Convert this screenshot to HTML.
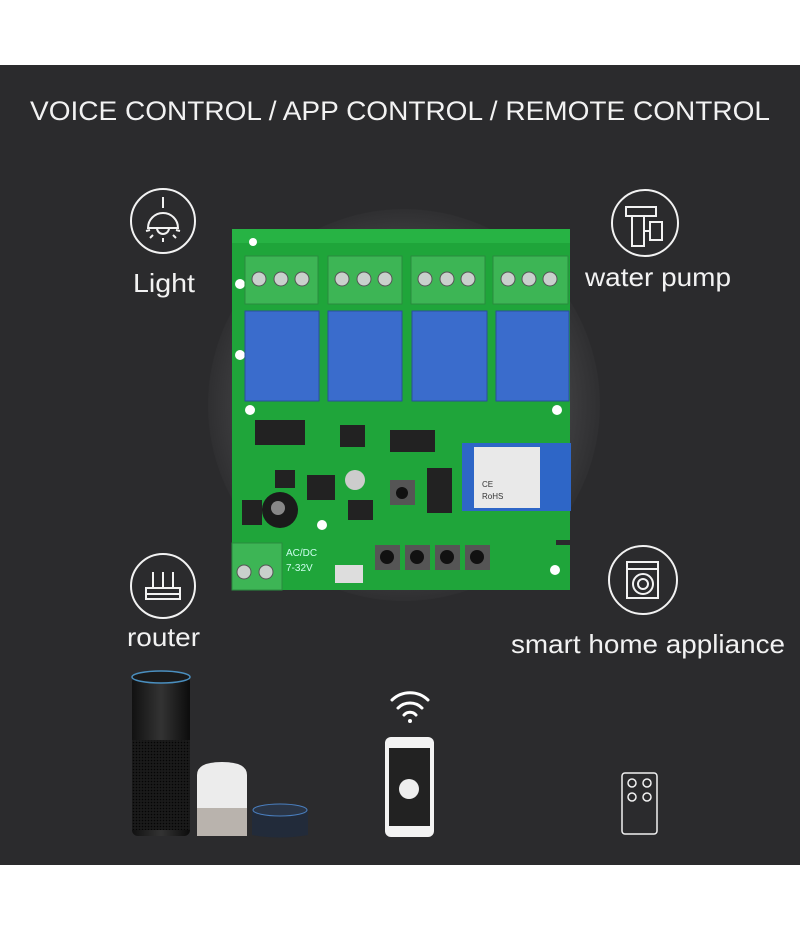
<!DOCTYPE html>
<html><head><meta charset="utf-8"><style>
html,body{margin:0;padding:0;background:#fff;width:800px;height:930px;overflow:hidden}
svg text{font-family:"Liberation Sans",sans-serif;fill:#f2f2f2}
</style></head><body>
<svg width="800" height="930" viewBox="0 0 800 930" xmlns="http://www.w3.org/2000/svg">
<defs>
<radialGradient id="glow" cx="0.5" cy="0.5" r="0.5">
<stop offset="0" stop-color="#48484a"/><stop offset="0.85" stop-color="#3c3c3e"/><stop offset="1" stop-color="#2f2f31"/>
</radialGradient>
<linearGradient id="echo" x1="0" x2="1"><stop offset="0" stop-color="#111"/><stop offset="0.5" stop-color="#333"/><stop offset="1" stop-color="#0c0c0c"/></linearGradient>
<pattern id="mesh" width="3" height="3" patternUnits="userSpaceOnUse"><rect width="3" height="3" fill="#1a1a1a"/><circle cx="1.5" cy="1.5" r="0.8" fill="#050505"/></pattern>
</defs>
<rect x="0" y="0" width="800" height="930" fill="#fff"/>
<rect x="0" y="65" width="800" height="800" fill="#2b2b2d"/>
<circle cx="404" cy="405" r="196" fill="url(#glow)"/>
<text x="30" y="120" font-size="27" textLength="740" lengthAdjust="spacingAndGlyphs">VOICE CONTROL / APP CONTROL / REMOTE CONTROL</text>

<!-- icons -->
<g stroke="#f2f2f2" stroke-width="2" fill="none">
<circle cx="163" cy="221" r="32"/>
<line x1="163" y1="197" x2="163" y2="208"/>
<path d="M148 228 A15 15 0 0 1 178 228 Z"/>
<path d="M157 228 A6 6 0 0 0 169 228"/>
<line x1="163" y1="238" x2="163" y2="242"/><line x1="153" y1="235" x2="150" y2="238"/><line x1="173" y1="235" x2="176" y2="238"/><line x1="150" y1="230" x2="146" y2="231"/><line x1="176" y1="230" x2="180" y2="231"/>
<circle cx="645" cy="223" r="33"/>
<rect x="626" y="207" width="30" height="9"/><rect x="632" y="216" width="12" height="30"/><rect x="650" y="222" width="12" height="18"/><line x1="644" y1="231" x2="650" y2="231"/>
<circle cx="163" cy="586" r="32"/>
<rect x="146" y="588" width="34" height="11"/><line x1="153" y1="572" x2="153" y2="588"/><line x1="163" y1="572" x2="163" y2="588"/><line x1="173" y1="572" x2="173" y2="588"/><line x1="146" y1="594" x2="180" y2="594"/>
<circle cx="643" cy="580" r="34"/>
<rect x="627" y="562" width="31" height="36"/><line x1="627" y1="569" x2="658" y2="569"/><circle cx="643" cy="584" r="10"/><circle cx="643" cy="584" r="5"/>
</g>
<text x="133" y="292" font-size="26" textLength="62" lengthAdjust="spacingAndGlyphs">Light</text>
<text x="585" y="286" font-size="26" textLength="146" lengthAdjust="spacingAndGlyphs">water pump</text>
<text x="127" y="646" font-size="26" textLength="73" lengthAdjust="spacingAndGlyphs">router</text>
<text x="511" y="653" font-size="26" textLength="274" lengthAdjust="spacingAndGlyphs">smart home appliance</text>

<!-- PCB -->
<path d="M232 231 L570 229 L570 540 L556 540 L556 545 L570 545 L570 590 L232 590 Z" fill="#1fa53a"/>
<rect x="232" y="229" width="338" height="14" fill="#27b344"/>
<circle cx="253" cy="242" r="4" fill="#fff"/><circle cx="240" cy="284" r="5" fill="#fff"/><circle cx="240" cy="355" r="5" fill="#fff"/><circle cx="250" cy="410" r="5" fill="#fff"/><circle cx="557" cy="410" r="5" fill="#fff"/><circle cx="322" cy="525" r="5" fill="#fff"/><circle cx="555" cy="570" r="5" fill="#fff"/>
<!-- terminals -->
<g fill="#3db555" stroke="#2a8c3e">
<rect x="245" y="256" width="73" height="48"/><rect x="328" y="256" width="74" height="48"/><rect x="411" y="256" width="74" height="48"/><rect x="493" y="256" width="75" height="48"/>
</g>
<g fill="#c9d0cc" stroke="#555">
<circle cx="259" cy="279" r="7"/><circle cx="281" cy="279" r="7"/><circle cx="302" cy="279" r="7"/>
<circle cx="342" cy="279" r="7"/><circle cx="364" cy="279" r="7"/><circle cx="385" cy="279" r="7"/>
<circle cx="425" cy="279" r="7"/><circle cx="447" cy="279" r="7"/><circle cx="468" cy="279" r="7"/>
<circle cx="508" cy="279" r="7"/><circle cx="529" cy="279" r="7"/><circle cx="550" cy="279" r="7"/>
</g>
<!-- relays -->
<g fill="#3a6ccc" stroke="#2a4f9a">
<rect x="245" y="311" width="74" height="90"/><rect x="328" y="311" width="74" height="90"/><rect x="412" y="311" width="75" height="90"/><rect x="496" y="311" width="73" height="90"/>
</g>
<!-- components -->
<g fill="#222">
<rect x="255" y="420" width="50" height="25"/><rect x="390" y="430" width="45" height="22"/><rect x="340" y="425" width="25" height="22"/>
<rect x="275" y="470" width="20" height="18"/><rect x="307" y="475" width="28" height="25"/><rect x="348" y="500" width="25" height="20"/>
<rect x="427" y="468" width="25" height="45"/><rect x="242" y="500" width="20" height="25"/>
</g>
<circle cx="280" cy="510" r="18" fill="#1b1b1b"/><circle cx="278" cy="508" r="7" fill="#888"/>
<circle cx="355" cy="480" r="10" fill="#ccc"/>
<g fill="#555"><rect x="390" y="480" width="25" height="25"/><rect x="375" y="545" width="25" height="25"/><rect x="405" y="545" width="25" height="25"/><rect x="435" y="545" width="25" height="25"/><rect x="465" y="545" width="25" height="25"/></g>
<g fill="#111"><circle cx="402" cy="493" r="6"/><circle cx="387" cy="557" r="7"/><circle cx="417" cy="557" r="7"/><circle cx="447" cy="557" r="7"/><circle cx="477" cy="557" r="7"/></g>
<rect x="462" y="443" width="109" height="68" fill="#2e66c7"/>
<rect x="474" y="447" width="66" height="61" fill="#e9e9e9"/>
<text x="482" y="487" font-size="8" style="fill:#333">CE</text><text x="482" y="499" font-size="8" style="fill:#333">RoHS</text>
<rect x="335" y="565" width="28" height="18" fill="#ddd"/>
<rect x="232" y="543" width="50" height="47" fill="#3db555" stroke="#2a8c3e"/>
<circle cx="244" cy="572" r="7" fill="#c9d0cc" stroke="#555"/><circle cx="266" cy="572" r="7" fill="#c9d0cc" stroke="#555"/>
<text x="286" y="556" font-size="10" style="fill:#cfe">AC/DC</text><text x="286" y="571" font-size="10" style="fill:#cfe">7-32V</text>

<!-- echo devices -->
<rect x="132" y="676" width="58" height="160" rx="6" fill="url(#echo)"/>
<rect x="132" y="740" width="58" height="90" fill="url(#mesh)"/>
<ellipse cx="161" cy="677" rx="29" ry="6" fill="#1a1a1a" stroke="#4a8fbf" stroke-width="1.5"/>
<path d="M197 775 Q197 762 222 762 Q247 762 247 775 L247 836 L197 836 Z" fill="#ececec"/>
<rect x="197" y="808" width="50" height="28" fill="#b9b3ad"/>
<path d="M252 812 Q252 804 280 804 Q308 804 308 812 L308 835 Q280 840 252 835 Z" fill="#222b3a"/>
<ellipse cx="280" cy="810" rx="27" ry="6" fill="#2a3546" stroke="#4a7fbf"/>
<!-- wifi + phone -->
<g stroke="#fff" stroke-width="3" fill="none" stroke-linecap="round">
<path d="M392 700 A26 26 0 0 1 428 700"/><path d="M398 708 A17 17 0 0 1 422 708"/><path d="M404 715 A8 8 0 0 1 416 715"/>
</g>
<circle cx="410" cy="721" r="2" fill="#fff"/>
<rect x="385" y="737" width="49" height="100" rx="6" fill="#f3f3f3"/>
<rect x="389" y="748" width="41" height="78" fill="#222"/>
<circle cx="409" cy="789" r="10" fill="#eee"/>
<!-- remote -->
<rect x="622" y="773" width="35" height="61" rx="3" fill="none" stroke="#f2f2f2" stroke-width="1.5"/>
<g fill="none" stroke="#f2f2f2" stroke-width="1.5"><circle cx="632" cy="783" r="4"/><circle cx="647" cy="783" r="4"/><circle cx="632" cy="797" r="4"/><circle cx="647" cy="797" r="4"/></g>
</svg>
</body></html>
